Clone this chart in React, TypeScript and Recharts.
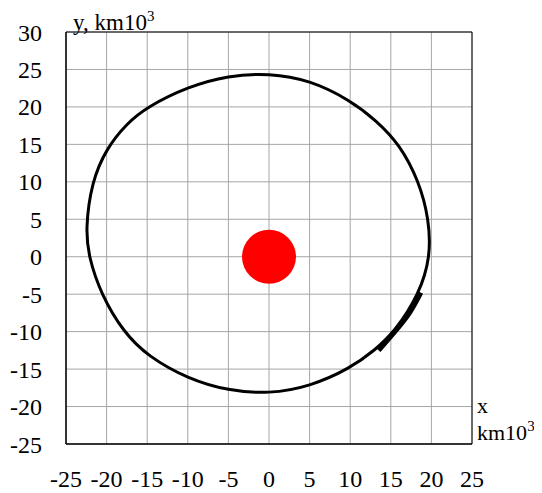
import React from 'react';
import {
  LineChart,
  Line,
  XAxis,
  YAxis,
  CartesianGrid,
  ReferenceArea,
  ReferenceDot,
} from 'recharts';

// orbit, clockwise from the top (x, y in km*10^3)
const orbitPoints = [
  { x: 0, y: 24.5 },
  { x: 5, y: 23.6 },
  { x: 10, y: 20.9 },
  { x: 13.2, y: 18.2 },
  { x: 16.1, y: 15 },
  { x: 18.5, y: 10 },
  { x: 19.7, y: 5 },
  { x: 19.9, y: 0 },
  { x: 18.5, y: -5 },
  { x: 15.5, y: -10 },
  { x: 13, y: -12.5 },
  { x: 10, y: -14.9 },
  { x: 5, y: -17.35 },
  { x: 0, y: -18.3 },
  { x: -5, y: -17.9 },
  { x: -10, y: -16.3 },
  { x: -14.9, y: -13.3 },
  { x: -17.9, y: -10.1 },
  { x: -20.7, y: -5 },
  { x: -22.2, y: 0 },
  { x: -22.6, y: 3.6 },
  { x: -21.85, y: 10 },
  { x: -20, y: 14.5 },
  { x: -17.5, y: 17.8 },
  { x: -15, y: 20 },
  { x: -10, y: 22.7 },
  { x: -5, y: 24.2 },
];

// thicker segment on the lower right
const burnArc = [
  { x: 18.7, y: -4.8 },
  { x: 17.3, y: -7.5 },
  { x: 15.5, y: -10 },
  { x: 13.5, y: -12.5 },
];

const earth = { x: 0, y: 0 };

const xTicks = [-25, -20, -15, -10, -5, 0, 5, 10, 15, 20, 25];
const yTicks = [-25, -20, -15, -10, -5, 0, 5, 10, 15, 20, 25, 30];

const font = 'Liberation Serif';

const YTitle = () => (
  <text x={65} y={22} fontFamily={font} fontSize={23} fill="#000">
    y, km10
    <tspan dy={-9} fontSize={15}>3</tspan>
  </text>
);

const XTitle = () => (
  <g fontFamily={font} fontSize={22} fill="#000">
    <text x={469} y={405}>x</text>
    <text x={469} y={432}>
      km10
      <tspan dy={-9} fontSize={15}>3</tspan>
    </text>
  </g>
);

export default function App() {
  return (
    <LineChart
      width={534}
      height={485}
      margin={{ top: 24, right: 70, bottom: 0, left: 0 }}
    >
      <CartesianGrid stroke="#a6a6a6" strokeWidth={1} />
      <XAxis
        type="number"
        dataKey="x"
        domain={[-25, 25]}
        ticks={xTicks}
        height={49}
        tickLine={false}
        tickSize={0}
        tickMargin={26}
        axisLine={{ stroke: '#000' }}
        tick={{ fill: '#000', fontSize: 24, fontFamily: font }}
        label={<XTitle />}
      />
      <YAxis
        type="number"
        dataKey="y"
        domain={[-25, 30]}
        ticks={yTicks}
        width={58}
        tickLine={false}
        tickSize={0}
        tickMargin={24}
        axisLine={{ stroke: '#000' }}
        tick={{ fill: '#000', fontSize: 24, fontFamily: font }}
        label={<YTitle />}
      />
      <ReferenceArea x1={-25} x2={25} y1={-25} y2={30} fill="none" stroke="#000" />
      <ReferenceDot x={earth.x} y={earth.y} r={27} fill="#ff0000" stroke="none" />
      <Line
        data={orbitPoints}
        dataKey="y"
        type="basisClosed"
        stroke="#000"
        strokeWidth={3}
        dot={false}
        isAnimationActive={false}
      />
      <Line
        data={burnArc}
        dataKey="y"
        type="natural"
        stroke="#000"
        strokeWidth={5}
        dot={false}
        isAnimationActive={false}
      />
    </LineChart>
  );
}
